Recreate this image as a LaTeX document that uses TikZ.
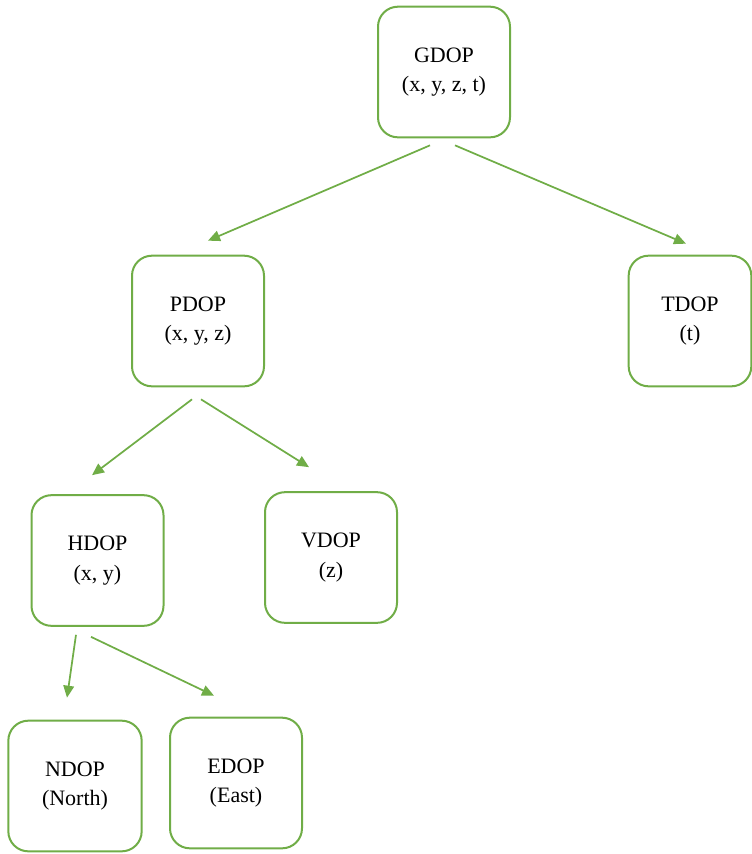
\documentclass[tikz,border=0pt]{standalone}
\usepackage{fontspec}
\setmainfont{Liberation Serif}
\usetikzlibrary{calc,arrows.meta}
\definecolor{dopgreen}{HTML}{70AD47}
\begin{document}
\begin{tikzpicture}[x=0.75pt, y=-0.75pt,
    dop/.style={rectangle, rounded corners=15pt, draw=dopgreen, line width=1.5pt, fill=white,
        minimum width=99pt, minimum height=98pt, align=center, inner sep=0pt,
        font=\fontsize{16.5}{22}\selectfont},
    arr/.style={dopgreen, line width=1.3pt, -{Triangle[length=9pt,width=8pt]}}]
    \useasboundingbox (0,0) rectangle (752,854);
    \node[dop] (GDOP) at (444, 72) {GDOP\\(x, y, z, t)};
    \node[dop] (PDOP) at (198, 321) {PDOP\\(x, y, z)};
    \node[dop, minimum width=92pt] (TDOP) at (690, 321) {TDOP\\(t)};
    \node[dop] (HDOP) at (97.5, 560.5) {HDOP\\(x, y)};
    \node[dop] (VDOP) at (331, 557.5) {VDOP\\(z)};
    \node[dop, minimum width=100pt] (NDOP) at (75, 786) {NDOP\\(North)};
    \node[dop] (EDOP) at (236, 783) {EDOP\\(East)};
    \draw[arr] ($(GDOP.south)+(-14,7)$) -- ($(PDOP.north)+(10,-14)$);
    \draw[arr] ($(GDOP.south)+(11,7)$) -- ($(TDOP.north)+(-4,-11)$);
    \draw[arr] ($(PDOP.south)+(-6,12)$) -- ($(HDOP.north)+(-5.5,-19)$);
    \draw[arr] ($(PDOP.south)+(3,12)$) -- ($(VDOP.north)+(-22,-24)$);
    \draw[arr] ($(HDOP.south)+(-21.5,8)$) -- ($(NDOP.north)+(-8,-22)$);
    \draw[arr] ($(HDOP.south)+(-6.5,10)$) -- ($(EDOP.north)+(-22,-21)$);
\end{tikzpicture}
\end{document}
